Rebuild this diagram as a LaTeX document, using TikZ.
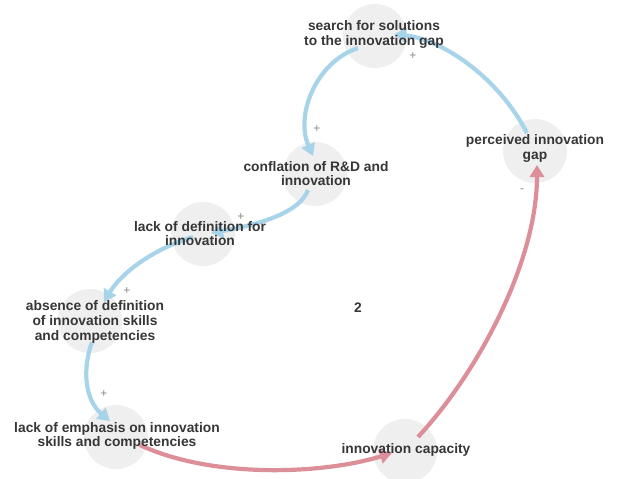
\documentclass[tikz,border=0pt]{standalone}
\usepackage{fontspec}
\setmainfont{Liberation Sans}
\usetikzlibrary{arrows.meta,calc}

\definecolor{bubble}{HTML}{EFEFEF}
\definecolor{linkpos}{HTML}{A8D4E9}
\definecolor{linkneg}{HTML}{DD8F99}
\definecolor{labeltext}{HTML}{363636}
\definecolor{signtext}{HTML}{8A8A8A}

\tikzset{
  element/.style={circle, fill=bubble, minimum size=64pt, inner sep=0pt},
  caption/.style={align=center, text=labeltext, inner sep=0pt,
    font=\fontsize{13.8pt}{14.6pt}\selectfont\bfseries},
  link/.style={line width=4.2pt, -{Triangle[length=12pt,width=14pt]}},
  poslink/.style={link, draw=linkpos},
  neglink/.style={link, draw=linkneg},
  sign/.style={text=signtext, inner sep=0pt, font=\fontsize{12pt}{12pt}\selectfont},
}

\begin{document}
\begin{tikzpicture}[x=1pt, y=-1pt]
  \useasboundingbox (0,0) rectangle (622,479);

  % element bubbles
  \node[element] (search) at (375,36) {};
  \node[element] (gap) at (535,151) {};
  \node[element] (confl) at (315,174) {};
  \node[element] (lackdef) at (203,234) {};
  \node[element] (absence) at (90,321) {};
  \node[element] (emph) at (116,437) {};
  \node[element] (capacity) at (405,451) {};

  % positive links
  \draw[poslink] ($(search)+(-17,12)$) .. controls (316,62) and (295,115) .. ($(confl)+(-2,-18)$);
  \draw[poslink] ($(gap)+(-8,-18)$) .. controls (500,80) and (445,40) .. ($(search)+(19,-2)$);
  \draw[poslink] ($(confl)+(-7,16)$) .. controls (300,212) and (262,224) .. ($(lackdef)+(8,-1)$);
  \draw[poslink] ($(lackdef)+(-10,3)$) .. controls (150,250) and (120,275) .. ($(absence)+(14,-19)$);
  \draw[poslink] ($(absence)+(2,21)$) .. controls (82,370) and (85,400) .. ($(emph)+(-6,-16)$);

  % negative-polarity loop closure
  \draw[neglink] ($(emph)+(24,8)$) .. controls (210,478) and (320,475) .. ($(capacity)+(-13,2)$);
  \draw[neglink] ($(capacity)+(13,-14)$) .. controls (480,370) and (537,260) .. ($(gap)+(2,14)$);

  % element captions
  \node[caption] (search-t) at (374,34.5) {search for solutions\\to the innovation gap};
  \node[caption] (gap-t) at (535,148.5) {perceived innovation\\gap};
  \node[caption] (confl-t) at (316,173.5) {conflation of R\&D and\\innovation};
  \node[caption] (lackdef-t) at (200,233.5) {lack of definition for\\innovation};
  \node[caption] (absence-t) at (95,322) {absence of definition\\of innovation skills\\and competencies};
  \node[caption] (emph-t) at (117,436) {lack of emphasis on innovation\\skills and competencies};
  \node[caption] (capacity-t) at (406,450) {innovation capacity};
  \node[caption] (loop) at (358,308) {2};

  % link polarities
  \node[sign] (s1) at (413,56) {+};
  \node[sign] (s2) at (317,129) {+};
  \node[sign] (s3) at (241,217) {+};
  \node[sign] (s4) at (127,291) {+};
  \node[sign] (s5) at (104,394) {+};
  \node[sign] (s6) at (522,191) {-};
\end{tikzpicture}
\end{document}
